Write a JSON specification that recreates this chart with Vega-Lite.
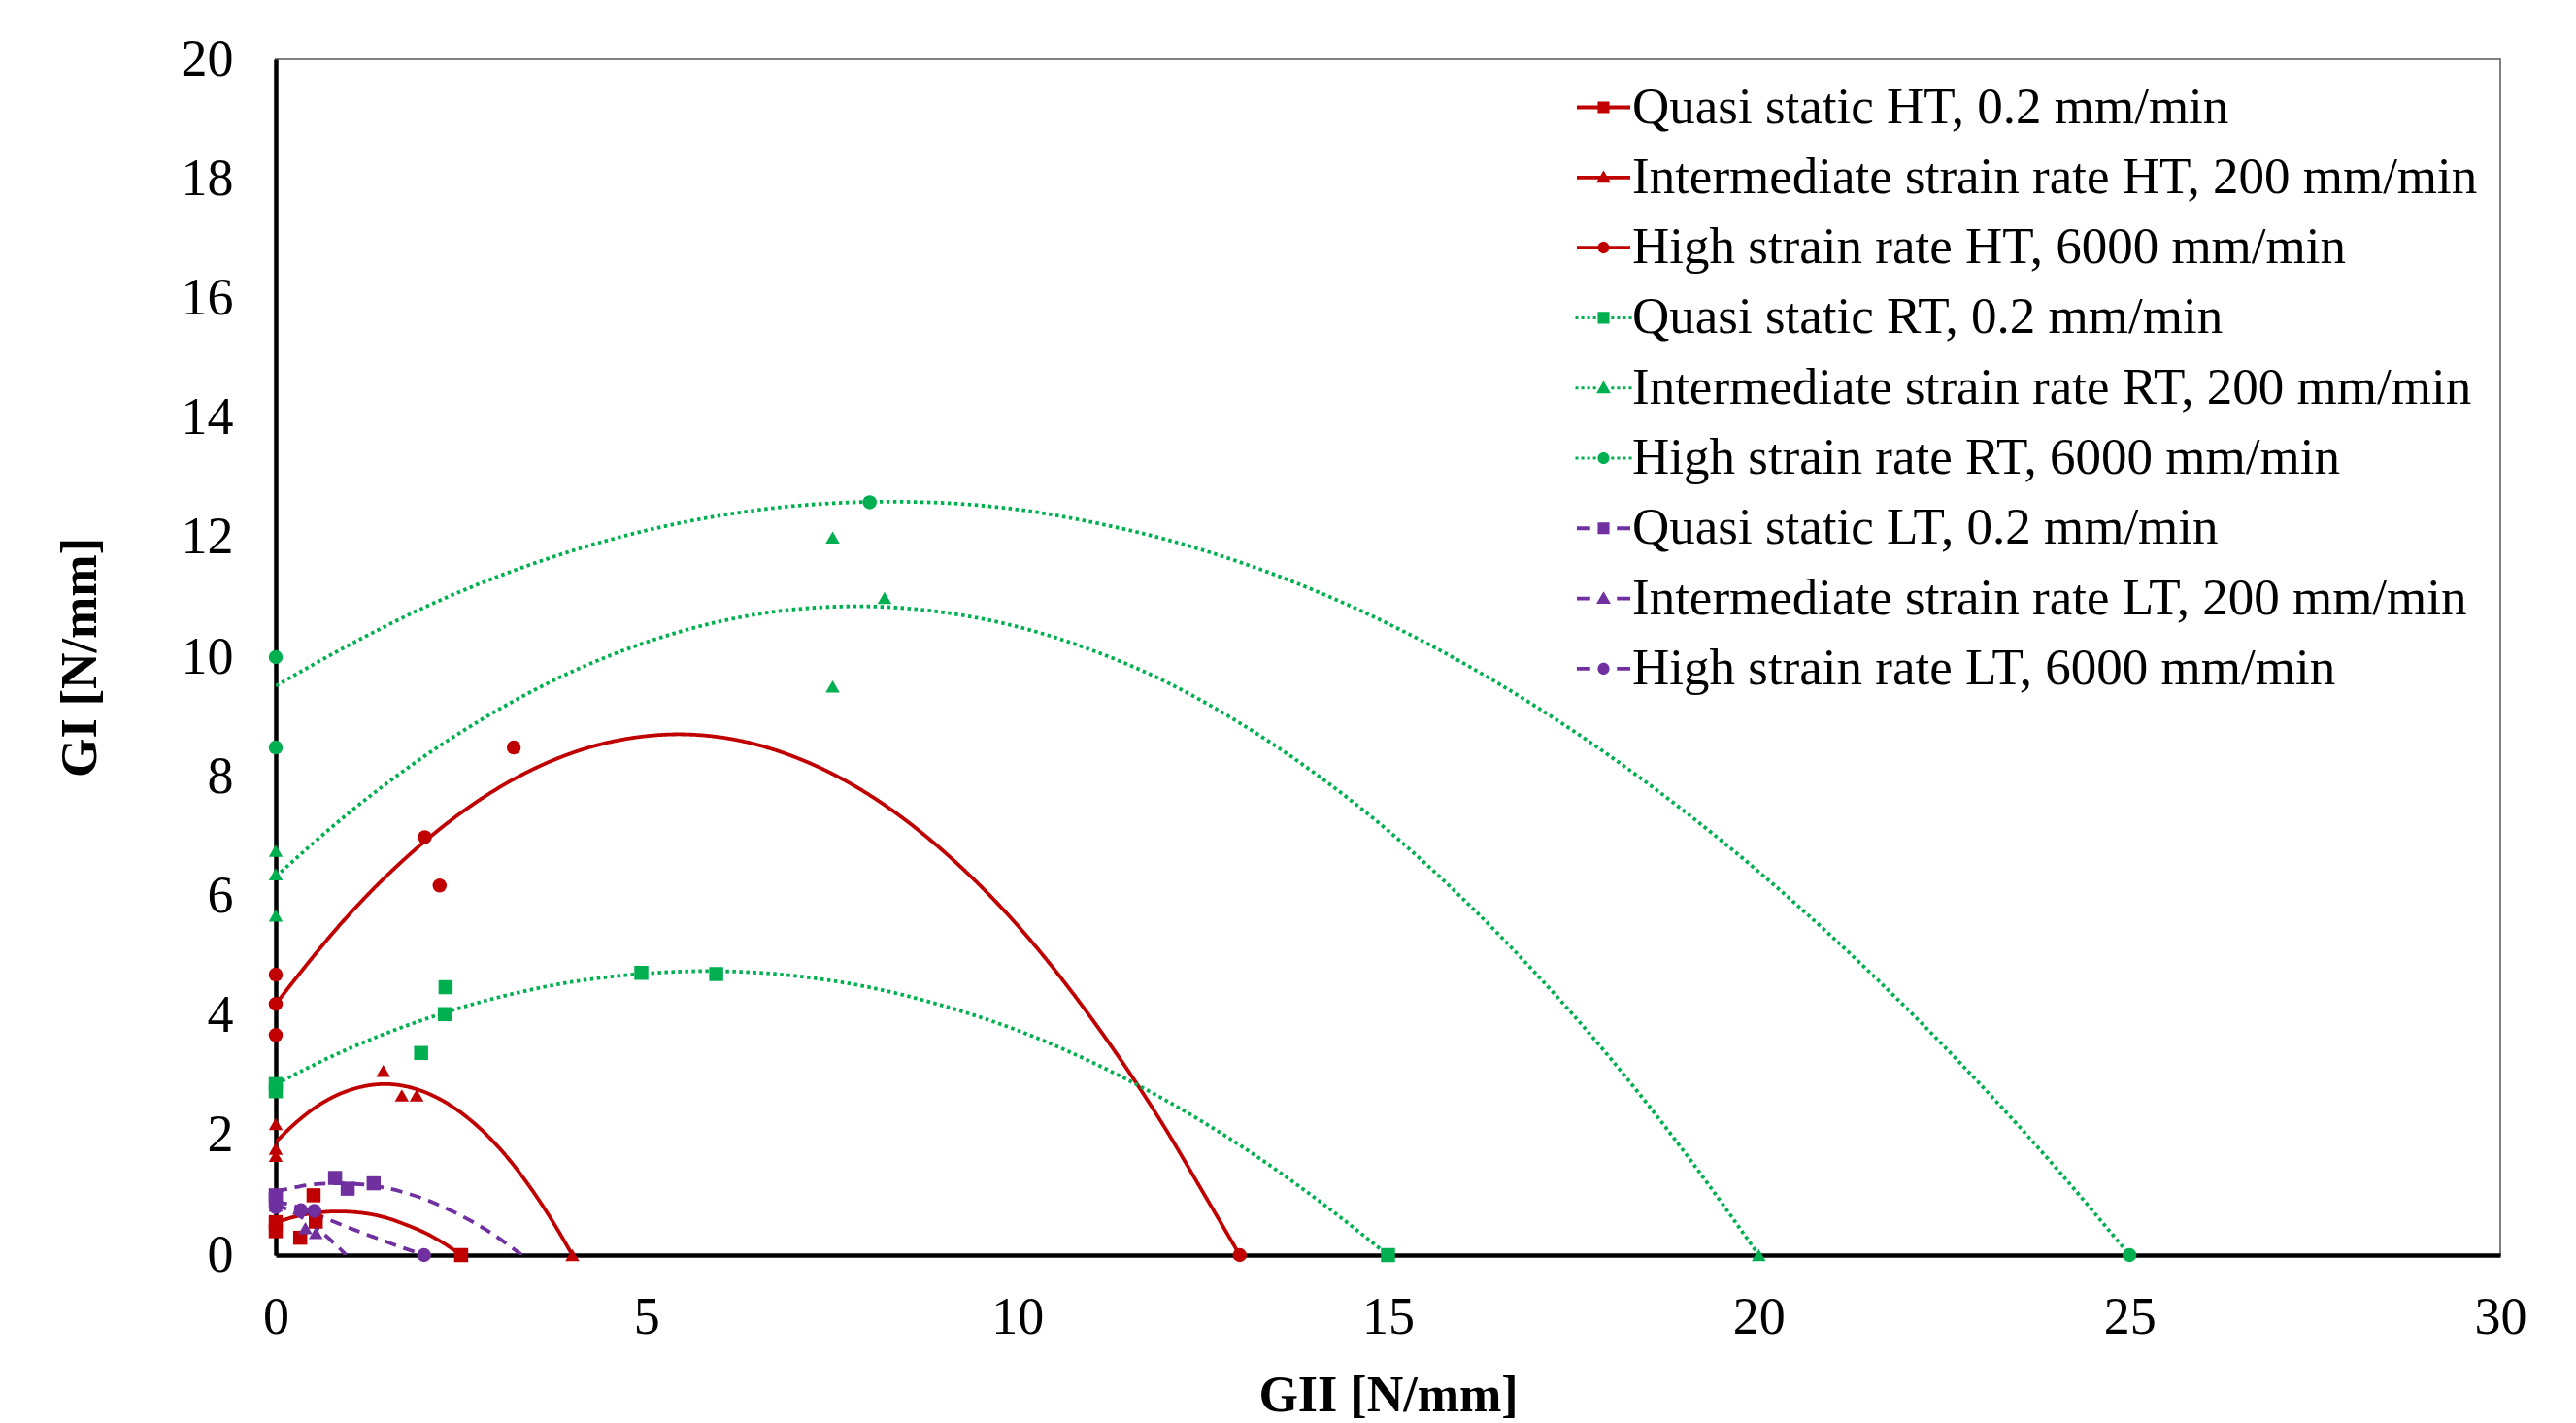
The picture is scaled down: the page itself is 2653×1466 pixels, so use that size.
{
  "$schema": "https://vega.github.io/schema/vega-lite/v6.json",
  "width": 2291,
  "height": 1232,
  "autosize": {"type": "none"},
  "padding": {"left": 284, "top": 61, "right": 78, "bottom": 173},
  "background": "white",
  "config": {
    "view": {"stroke": "#808080", "strokeWidth": 2},
    "font": "Liberation Serif",
    "axis": {
      "grid": false,
      "ticks": false,
      "tickSize": 0,
      "labelFlush": false,
      "domainColor": "black",
      "domainWidth": 4.5,
      "labelFont": "Liberation Serif",
      "labelFontSize": 54,
      "labelColor": "black",
      "titleFont": "Liberation Serif",
      "titleFontSize": 52,
      "titleFontWeight": "bold",
      "titleColor": "black"
    }
  },
  "datasets": {
    "pts": [
      {"series": "Quasi static HT, 0.2 mm/min", "x": 0, "y": 0.55},
      {"series": "Quasi static HT, 0.2 mm/min", "x": 0, "y": 0.4},
      {"series": "Quasi static HT, 0.2 mm/min", "x": 0.33, "y": 0.29},
      {"series": "Quasi static HT, 0.2 mm/min", "x": 0.51, "y": 1.0},
      {"series": "Quasi static HT, 0.2 mm/min", "x": 0.54, "y": 0.56},
      {"series": "Quasi static HT, 0.2 mm/min", "x": 2.5, "y": 0},
      {"series": "Intermediate strain rate HT, 200 mm/min", "x": 0, "y": 2.19},
      {"series": "Intermediate strain rate HT, 200 mm/min", "x": 0, "y": 1.78},
      {"series": "Intermediate strain rate HT, 200 mm/min", "x": 0, "y": 1.66},
      {"series": "Intermediate strain rate HT, 200 mm/min", "x": 1.45, "y": 3.08},
      {"series": "Intermediate strain rate HT, 200 mm/min", "x": 1.7, "y": 2.67},
      {"series": "Intermediate strain rate HT, 200 mm/min", "x": 1.9, "y": 2.67},
      {"series": "Intermediate strain rate HT, 200 mm/min", "x": 4, "y": 0},
      {"series": "High strain rate HT, 6000 mm/min", "x": 0, "y": 4.69},
      {"series": "High strain rate HT, 6000 mm/min", "x": 0, "y": 4.2},
      {"series": "High strain rate HT, 6000 mm/min", "x": 0, "y": 3.68},
      {"series": "High strain rate HT, 6000 mm/min", "x": 2.01, "y": 6.99},
      {"series": "High strain rate HT, 6000 mm/min", "x": 2.21, "y": 6.18},
      {"series": "High strain rate HT, 6000 mm/min", "x": 3.21, "y": 8.49},
      {"series": "High strain rate HT, 6000 mm/min", "x": 13, "y": 0},
      {"series": "Quasi static RT, 0.2 mm/min", "x": 0, "y": 2.86},
      {"series": "Quasi static RT, 0.2 mm/min", "x": 0, "y": 2.74},
      {"series": "Quasi static RT, 0.2 mm/min", "x": 1.96, "y": 3.38},
      {"series": "Quasi static RT, 0.2 mm/min", "x": 2.28, "y": 4.03},
      {"series": "Quasi static RT, 0.2 mm/min", "x": 2.29, "y": 4.48},
      {"series": "Quasi static RT, 0.2 mm/min", "x": 4.93, "y": 4.72},
      {"series": "Quasi static RT, 0.2 mm/min", "x": 5.94, "y": 4.7},
      {"series": "Quasi static RT, 0.2 mm/min", "x": 15, "y": 0},
      {"series": "Intermediate strain rate RT, 200 mm/min", "x": 0, "y": 6.76},
      {"series": "Intermediate strain rate RT, 200 mm/min", "x": 0, "y": 6.37},
      {"series": "Intermediate strain rate RT, 200 mm/min", "x": 0, "y": 5.68},
      {"series": "Intermediate strain rate RT, 200 mm/min", "x": 7.51, "y": 12.0},
      {"series": "Intermediate strain rate RT, 200 mm/min", "x": 7.51, "y": 9.51},
      {"series": "Intermediate strain rate RT, 200 mm/min", "x": 8.21, "y": 10.99},
      {"series": "Intermediate strain rate RT, 200 mm/min", "x": 20, "y": 0},
      {"series": "High strain rate RT, 6000 mm/min", "x": 0, "y": 10.0},
      {"series": "High strain rate RT, 6000 mm/min", "x": 0, "y": 8.49},
      {"series": "High strain rate RT, 6000 mm/min", "x": 8.01, "y": 12.59},
      {"series": "High strain rate RT, 6000 mm/min", "x": 25, "y": 0},
      {"series": "Quasi static LT, 0.2 mm/min", "x": 0, "y": 1.0},
      {"series": "Quasi static LT, 0.2 mm/min", "x": 0, "y": 0.93},
      {"series": "Quasi static LT, 0.2 mm/min", "x": 0.8, "y": 1.29},
      {"series": "Quasi static LT, 0.2 mm/min", "x": 0.97, "y": 1.11},
      {"series": "Quasi static LT, 0.2 mm/min", "x": 1.32, "y": 1.2},
      {"series": "Intermediate strain rate LT, 200 mm/min", "x": 0, "y": 0.88},
      {"series": "Intermediate strain rate LT, 200 mm/min", "x": 0, "y": 0.83},
      {"series": "Intermediate strain rate LT, 200 mm/min", "x": 0.4, "y": 0.45},
      {"series": "Intermediate strain rate LT, 200 mm/min", "x": 0.54, "y": 0.37},
      {"series": "High strain rate LT, 6000 mm/min", "x": 0, "y": 0.8},
      {"series": "High strain rate LT, 6000 mm/min", "x": 0.34, "y": 0.75},
      {"series": "High strain rate LT, 6000 mm/min", "x": 0.52, "y": 0.74},
      {"series": "High strain rate LT, 6000 mm/min", "x": 2.0, "y": 0}
    ],
    "fit": [
      {"series": "Quasi static HT, 0.2 mm/min", "x": 0, "y": 0.54},
      {"series": "Quasi static HT, 0.2 mm/min", "x": 0.25, "y": 0.64},
      {"series": "Quasi static HT, 0.2 mm/min", "x": 0.5, "y": 0.7},
      {"series": "Quasi static HT, 0.2 mm/min", "x": 0.85, "y": 0.73},
      {"series": "Quasi static HT, 0.2 mm/min", "x": 1.25, "y": 0.69},
      {"series": "Quasi static HT, 0.2 mm/min", "x": 1.5, "y": 0.62},
      {"series": "Quasi static HT, 0.2 mm/min", "x": 1.75, "y": 0.51},
      {"series": "Quasi static HT, 0.2 mm/min", "x": 2, "y": 0.38},
      {"series": "Quasi static HT, 0.2 mm/min", "x": 2.25, "y": 0.21},
      {"series": "Quasi static HT, 0.2 mm/min", "x": 2.5, "y": 0},
      {"series": "Intermediate strain rate HT, 200 mm/min", "x": 0, "y": 1.89},
      {"series": "Intermediate strain rate HT, 200 mm/min", "x": 0.25, "y": 2.19},
      {"series": "Intermediate strain rate HT, 200 mm/min", "x": 0.5, "y": 2.44},
      {"series": "Intermediate strain rate HT, 200 mm/min", "x": 0.75, "y": 2.63},
      {"series": "Intermediate strain rate HT, 200 mm/min", "x": 1, "y": 2.76},
      {"series": "Intermediate strain rate HT, 200 mm/min", "x": 1.47, "y": 2.86},
      {"series": "Intermediate strain rate HT, 200 mm/min", "x": 2, "y": 2.73},
      {"series": "Intermediate strain rate HT, 200 mm/min", "x": 2.5, "y": 2.38},
      {"series": "Intermediate strain rate HT, 200 mm/min", "x": 3, "y": 1.81},
      {"series": "Intermediate strain rate HT, 200 mm/min", "x": 3.5, "y": 1.01},
      {"series": "Intermediate strain rate HT, 200 mm/min", "x": 3.75, "y": 0.53},
      {"series": "Intermediate strain rate HT, 200 mm/min", "x": 4, "y": 0},
      {"series": "High strain rate HT, 6000 mm/min", "x": 0, "y": 4.2},
      {"series": "High strain rate HT, 6000 mm/min", "x": 1, "y": 5.71},
      {"series": "High strain rate HT, 6000 mm/min", "x": 2, "y": 6.91},
      {"series": "High strain rate HT, 6000 mm/min", "x": 3, "y": 7.81},
      {"series": "High strain rate HT, 6000 mm/min", "x": 4, "y": 8.4},
      {"series": "High strain rate HT, 6000 mm/min", "x": 5, "y": 8.68},
      {"series": "High strain rate HT, 6000 mm/min", "x": 5.43, "y": 8.71},
      {"series": "High strain rate HT, 6000 mm/min", "x": 6, "y": 8.66},
      {"series": "High strain rate HT, 6000 mm/min", "x": 7, "y": 8.33},
      {"series": "High strain rate HT, 6000 mm/min", "x": 8, "y": 7.7},
      {"series": "High strain rate HT, 6000 mm/min", "x": 9, "y": 6.76},
      {"series": "High strain rate HT, 6000 mm/min", "x": 10, "y": 5.52},
      {"series": "High strain rate HT, 6000 mm/min", "x": 11, "y": 3.96},
      {"series": "High strain rate HT, 6000 mm/min", "x": 12, "y": 2.11},
      {"series": "High strain rate HT, 6000 mm/min", "x": 12.5, "y": 1.06},
      {"series": "High strain rate HT, 6000 mm/min", "x": 13, "y": 0},
      {"series": "Quasi static RT, 0.2 mm/min", "x": 0, "y": 2.86},
      {"series": "Quasi static RT, 0.2 mm/min", "x": 1, "y": 3.46},
      {"series": "Quasi static RT, 0.2 mm/min", "x": 2, "y": 3.94},
      {"series": "Quasi static RT, 0.2 mm/min", "x": 3, "y": 4.31},
      {"series": "Quasi static RT, 0.2 mm/min", "x": 4, "y": 4.57},
      {"series": "Quasi static RT, 0.2 mm/min", "x": 5, "y": 4.71},
      {"series": "Quasi static RT, 0.2 mm/min", "x": 5.8, "y": 4.75},
      {"series": "Quasi static RT, 0.2 mm/min", "x": 7, "y": 4.67},
      {"series": "Quasi static RT, 0.2 mm/min", "x": 8, "y": 4.48},
      {"series": "Quasi static RT, 0.2 mm/min", "x": 9, "y": 4.17},
      {"series": "Quasi static RT, 0.2 mm/min", "x": 10, "y": 3.76},
      {"series": "Quasi static RT, 0.2 mm/min", "x": 11, "y": 3.23},
      {"series": "Quasi static RT, 0.2 mm/min", "x": 12, "y": 2.59},
      {"series": "Quasi static RT, 0.2 mm/min", "x": 13, "y": 1.84},
      {"series": "Quasi static RT, 0.2 mm/min", "x": 14, "y": 0.97},
      {"series": "Quasi static RT, 0.2 mm/min", "x": 15, "y": 0},
      {"series": "Intermediate strain rate RT, 200 mm/min", "x": 0, "y": 6.33},
      {"series": "Intermediate strain rate RT, 200 mm/min", "x": 1, "y": 7.41},
      {"series": "Intermediate strain rate RT, 200 mm/min", "x": 2, "y": 8.34},
      {"series": "Intermediate strain rate RT, 200 mm/min", "x": 3, "y": 9.12},
      {"series": "Intermediate strain rate RT, 200 mm/min", "x": 4, "y": 9.76},
      {"series": "Intermediate strain rate RT, 200 mm/min", "x": 5, "y": 10.25},
      {"series": "Intermediate strain rate RT, 200 mm/min", "x": 6, "y": 10.6},
      {"series": "Intermediate strain rate RT, 200 mm/min", "x": 7, "y": 10.8},
      {"series": "Intermediate strain rate RT, 200 mm/min", "x": 7.85, "y": 10.85},
      {"series": "Intermediate strain rate RT, 200 mm/min", "x": 9, "y": 10.75},
      {"series": "Intermediate strain rate RT, 200 mm/min", "x": 10, "y": 10.51},
      {"series": "Intermediate strain rate RT, 200 mm/min", "x": 11, "y": 10.12},
      {"series": "Intermediate strain rate RT, 200 mm/min", "x": 12, "y": 9.59},
      {"series": "Intermediate strain rate RT, 200 mm/min", "x": 13, "y": 8.9},
      {"series": "Intermediate strain rate RT, 200 mm/min", "x": 14, "y": 8.07},
      {"series": "Intermediate strain rate RT, 200 mm/min", "x": 15, "y": 7.1},
      {"series": "Intermediate strain rate RT, 200 mm/min", "x": 16, "y": 5.97},
      {"series": "Intermediate strain rate RT, 200 mm/min", "x": 17, "y": 4.7},
      {"series": "Intermediate strain rate RT, 200 mm/min", "x": 18, "y": 3.29},
      {"series": "Intermediate strain rate RT, 200 mm/min", "x": 19, "y": 1.72},
      {"series": "Intermediate strain rate RT, 200 mm/min", "x": 20, "y": 0},
      {"series": "High strain rate RT, 6000 mm/min", "x": 0, "y": 9.52},
      {"series": "High strain rate RT, 6000 mm/min", "x": 1, "y": 10.21},
      {"series": "High strain rate RT, 6000 mm/min", "x": 2, "y": 10.83},
      {"series": "High strain rate RT, 6000 mm/min", "x": 3, "y": 11.35},
      {"series": "High strain rate RT, 6000 mm/min", "x": 4, "y": 11.78},
      {"series": "High strain rate RT, 6000 mm/min", "x": 5, "y": 12.12},
      {"series": "High strain rate RT, 6000 mm/min", "x": 6, "y": 12.37},
      {"series": "High strain rate RT, 6000 mm/min", "x": 7, "y": 12.53},
      {"series": "High strain rate RT, 6000 mm/min", "x": 8.27, "y": 12.6},
      {"series": "High strain rate RT, 6000 mm/min", "x": 9, "y": 12.58},
      {"series": "High strain rate RT, 6000 mm/min", "x": 10, "y": 12.47},
      {"series": "High strain rate RT, 6000 mm/min", "x": 11, "y": 12.26},
      {"series": "High strain rate RT, 6000 mm/min", "x": 12, "y": 11.97},
      {"series": "High strain rate RT, 6000 mm/min", "x": 13, "y": 11.59},
      {"series": "High strain rate RT, 6000 mm/min", "x": 14, "y": 11.12},
      {"series": "High strain rate RT, 6000 mm/min", "x": 15, "y": 10.56},
      {"series": "High strain rate RT, 6000 mm/min", "x": 16, "y": 9.91},
      {"series": "High strain rate RT, 6000 mm/min", "x": 17, "y": 9.17},
      {"series": "High strain rate RT, 6000 mm/min", "x": 18, "y": 8.34},
      {"series": "High strain rate RT, 6000 mm/min", "x": 19, "y": 7.42},
      {"series": "High strain rate RT, 6000 mm/min", "x": 20, "y": 6.41},
      {"series": "High strain rate RT, 6000 mm/min", "x": 21, "y": 5.31},
      {"series": "High strain rate RT, 6000 mm/min", "x": 22, "y": 4.12},
      {"series": "High strain rate RT, 6000 mm/min", "x": 23, "y": 2.84},
      {"series": "High strain rate RT, 6000 mm/min", "x": 24, "y": 1.47},
      {"series": "High strain rate RT, 6000 mm/min", "x": 25, "y": 0},
      {"series": "Quasi static LT, 0.2 mm/min", "x": 0, "y": 1.06},
      {"series": "Quasi static LT, 0.2 mm/min", "x": 0.25, "y": 1.13},
      {"series": "Quasi static LT, 0.2 mm/min", "x": 0.5, "y": 1.18},
      {"series": "Quasi static LT, 0.2 mm/min", "x": 0.85, "y": 1.2},
      {"series": "Quasi static LT, 0.2 mm/min", "x": 1.25, "y": 1.17},
      {"series": "Quasi static LT, 0.2 mm/min", "x": 1.5, "y": 1.12},
      {"series": "Quasi static LT, 0.2 mm/min", "x": 1.75, "y": 1.04},
      {"series": "Quasi static LT, 0.2 mm/min", "x": 2, "y": 0.94},
      {"series": "Quasi static LT, 0.2 mm/min", "x": 2.25, "y": 0.81},
      {"series": "Quasi static LT, 0.2 mm/min", "x": 2.5, "y": 0.66},
      {"series": "Quasi static LT, 0.2 mm/min", "x": 2.75, "y": 0.49},
      {"series": "Quasi static LT, 0.2 mm/min", "x": 3, "y": 0.29},
      {"series": "Quasi static LT, 0.2 mm/min", "x": 3.32, "y": 0},
      {"series": "Intermediate strain rate LT, 200 mm/min", "x": 0, "y": 0.85},
      {"series": "Intermediate strain rate LT, 200 mm/min", "x": 0.3, "y": 0.67},
      {"series": "Intermediate strain rate LT, 200 mm/min", "x": 0.55, "y": 0.45},
      {"series": "Intermediate strain rate LT, 200 mm/min", "x": 0.82, "y": 0.16},
      {"series": "Intermediate strain rate LT, 200 mm/min", "x": 0.95, "y": 0},
      {"series": "High strain rate LT, 6000 mm/min", "x": 0, "y": 0.9},
      {"series": "High strain rate LT, 6000 mm/min", "x": 0.3, "y": 0.8},
      {"series": "High strain rate LT, 6000 mm/min", "x": 0.62, "y": 0.64},
      {"series": "High strain rate LT, 6000 mm/min", "x": 1.0, "y": 0.45},
      {"series": "High strain rate LT, 6000 mm/min", "x": 1.3, "y": 0.31},
      {"series": "High strain rate LT, 6000 mm/min", "x": 1.63, "y": 0.16},
      {"series": "High strain rate LT, 6000 mm/min", "x": 2.0, "y": 0}
    ]
  },
  "encoding": {
    "x": {
      "field": "x", "type": "quantitative",
      "scale": {"domain": [0, 30], "nice": false, "zero": false},
      "axis": {"values": [0, 5, 10, 15, 20, 25, 30], "labelPadding": 37, "title": "GII [N/mm]", "titlePadding": 28}
    },
    "y": {
      "field": "y", "type": "quantitative",
      "scale": {"domain": [0, 20], "nice": false, "zero": false},
      "axis": {"values": [0, 2, 4, 6, 8, 10, 12, 14, 16, 18, 20], "labelPadding": 44, "title": "GI [N/mm]", "titlePadding": 77}
    }
  },
  "layer": [
    {
      "data": {"name": "fit"},
      "mark": {"type": "line", "interpolate": "monotone", "strokeWidth": 3.8, "clip": true},
      "encoding": {
        "color": {
          "field": "series", "type": "nominal", "legend": null,
          "scale": {
            "domain": ["Quasi static HT, 0.2 mm/min", "Intermediate strain rate HT, 200 mm/min", "High strain rate HT, 6000 mm/min", "Quasi static RT, 0.2 mm/min", "Intermediate strain rate RT, 200 mm/min", "High strain rate RT, 6000 mm/min", "Quasi static LT, 0.2 mm/min", "Intermediate strain rate LT, 200 mm/min", "High strain rate LT, 6000 mm/min"],
            "range": ["#C00000", "#C00000", "#C00000", "#00B050", "#00B050", "#00B050", "#7030A0", "#7030A0", "#7030A0"]
          }
        },
        "strokeDash": {
          "field": "series", "type": "nominal", "legend": null,
          "scale": {
            "domain": ["Quasi static HT, 0.2 mm/min", "Intermediate strain rate HT, 200 mm/min", "High strain rate HT, 6000 mm/min", "Quasi static RT, 0.2 mm/min", "Intermediate strain rate RT, 200 mm/min", "High strain rate RT, 6000 mm/min", "Quasi static LT, 0.2 mm/min", "Intermediate strain rate LT, 200 mm/min", "High strain rate LT, 6000 mm/min"],
            "range": [[1, 0], [1, 0], [1, 0], [3.5, 3.5], [3.5, 3.5], [3.5, 3.5], [12, 8], [12, 8], [12, 8]]
          }
        }
      }
    },
    {
      "data": {"name": "pts"},
      "mark": {"type": "point", "filled": true, "opacity": 1, "size": 210, "clip": false},
      "encoding": {
        "color": {
          "field": "series", "type": "nominal", "legend": null,
          "scale": {
            "domain": ["Quasi static HT, 0.2 mm/min", "Intermediate strain rate HT, 200 mm/min", "High strain rate HT, 6000 mm/min", "Quasi static RT, 0.2 mm/min", "Intermediate strain rate RT, 200 mm/min", "High strain rate RT, 6000 mm/min", "Quasi static LT, 0.2 mm/min", "Intermediate strain rate LT, 200 mm/min", "High strain rate LT, 6000 mm/min"],
            "range": ["#C00000", "#C00000", "#C00000", "#00B050", "#00B050", "#00B050", "#7030A0", "#7030A0", "#7030A0"]
          }
        },
        "shape": {
          "field": "series", "type": "nominal", "legend": null,
          "scale": {
            "domain": ["Quasi static HT, 0.2 mm/min", "Intermediate strain rate HT, 200 mm/min", "High strain rate HT, 6000 mm/min", "Quasi static RT, 0.2 mm/min", "Intermediate strain rate RT, 200 mm/min", "High strain rate RT, 6000 mm/min", "Quasi static LT, 0.2 mm/min", "Intermediate strain rate LT, 200 mm/min", "High strain rate LT, 6000 mm/min"],
            "range": ["square", "triangle-up", "circle", "square", "triangle-up", "circle", "square", "triangle-up", "circle"]
          }
        }
      }
    },
    {
      "data": {"name": "pts"},
      "transform": [{"filter": "datum.x < -100"}],
      "mark": {"type": "point", "filled": true, "opacity": 1},
      "encoding": {
        "color": {
          "field": "series", "type": "nominal",
          "scale": {
            "domain": ["Quasi static HT, 0.2 mm/min", "Intermediate strain rate HT, 200 mm/min", "High strain rate HT, 6000 mm/min", "Quasi static RT, 0.2 mm/min", "Intermediate strain rate RT, 200 mm/min", "High strain rate RT, 6000 mm/min", "Quasi static LT, 0.2 mm/min", "Intermediate strain rate LT, 200 mm/min", "High strain rate LT, 6000 mm/min"],
            "range": ["#C00000", "#C00000", "#C00000", "#00B050", "#00B050", "#00B050", "#7030A0", "#7030A0", "#7030A0"]
          },
          "legend": {
            "title": null, "orient": "none", "legendX": 1340, "legendY": 22, "padding": 0,
            "labelFont": "Liberation Serif", "labelFontSize": 53, "labelColor": "black", "labelLimit": 1500,
            "labelOffset": 2, "symbolSize": 3025, "symbolStrokeWidth": 0, "symbolOpacity": 1, "rowPadding": 17.3
          }
        },
        "shape": {
          "field": "series", "type": "nominal",
          "scale": {
            "domain": ["Quasi static HT, 0.2 mm/min", "Intermediate strain rate HT, 200 mm/min", "High strain rate HT, 6000 mm/min", "Quasi static RT, 0.2 mm/min", "Intermediate strain rate RT, 200 mm/min", "High strain rate RT, 6000 mm/min", "Quasi static LT, 0.2 mm/min", "Intermediate strain rate LT, 200 mm/min", "High strain rate LT, 6000 mm/min"],
            "range": [
              "M-1,-0.07H1V0.07H-1Z M-0.22,-0.22H0.22V0.22H-0.22Z",
              "M-1,-0.07H1V0.07H-1Z M0,-0.27L0.27,0.2L-0.27,0.2Z",
              "M-1,-0.07H1V0.07H-1Z M0.22,0A0.22,0.22,0,1,1,-0.22,0A0.22,0.22,0,1,1,0.22,0Z",
              "M-1.055,-0.055h0.11v0.11h-0.11Z M-0.835,-0.055h0.11v0.11h-0.11Z M-0.615,-0.055h0.11v0.11h-0.11Z M-0.395,-0.055h0.11v0.11h-0.11Z M0.285,-0.055h0.11v0.11h-0.11Z M0.505,-0.055h0.11v0.11h-0.11Z M0.725,-0.055h0.11v0.11h-0.11Z M0.945,-0.055h0.11v0.11h-0.11Z M-0.22,-0.22H0.22V0.22H-0.22Z",
              "M-1.055,-0.055h0.11v0.11h-0.11Z M-0.835,-0.055h0.11v0.11h-0.11Z M-0.615,-0.055h0.11v0.11h-0.11Z M-0.395,-0.055h0.11v0.11h-0.11Z M0.285,-0.055h0.11v0.11h-0.11Z M0.505,-0.055h0.11v0.11h-0.11Z M0.725,-0.055h0.11v0.11h-0.11Z M0.945,-0.055h0.11v0.11h-0.11Z M0,-0.27L0.27,0.2L-0.27,0.2Z",
              "M-1.055,-0.055h0.11v0.11h-0.11Z M-0.835,-0.055h0.11v0.11h-0.11Z M-0.615,-0.055h0.11v0.11h-0.11Z M-0.395,-0.055h0.11v0.11h-0.11Z M0.285,-0.055h0.11v0.11h-0.11Z M0.505,-0.055h0.11v0.11h-0.11Z M0.725,-0.055h0.11v0.11h-0.11Z M0.945,-0.055h0.11v0.11h-0.11Z M0.22,0A0.22,0.22,0,1,1,-0.22,0A0.22,0.22,0,1,1,0.22,0Z",
              "M-1,-0.07H-0.5V0.07H-1Z M0.5,-0.07H1V0.07H0.5Z M-0.22,-0.22H0.22V0.22H-0.22Z",
              "M-1,-0.07H-0.5V0.07H-1Z M0.5,-0.07H1V0.07H0.5Z M0,-0.27L0.27,0.2L-0.27,0.2Z",
              "M-1,-0.07H-0.5V0.07H-1Z M0.5,-0.07H1V0.07H0.5Z M0.22,0A0.22,0.22,0,1,1,-0.22,0A0.22,0.22,0,1,1,0.22,0Z"
            ]
          }
        }
      }
    }
  ],
  "resolve": {"scale": {"color": "independent", "shape": "independent", "strokeDash": "independent"}}
}
